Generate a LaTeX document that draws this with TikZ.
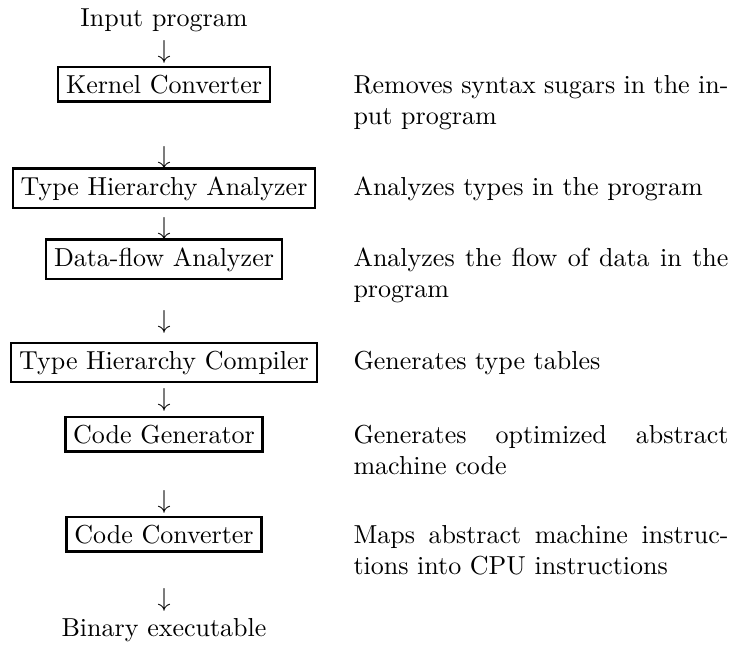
\documentclass[tikz,border=0pt]{standalone}
\usepackage{amsmath}
\usepackage{tikz}
\usetikzlibrary{positioning}
\tikzset{
  stagenode/.style = {align=center, inner sep=0pt, text centered},
  phase_node/.style = {stagenode, rectangle, draw=black, line width=0.9pt,
    inner sep=3pt, anchor=base},% une phase du compilateur
  io_node/.style = {stagenode, anchor=base},% entree ou sortie
  arrow_node/.style = {stagenode, anchor=base},% fleche entre deux phases
  desc_node/.style = {anchor=base west, inner sep=0pt, text width=144.2pt,
    align=justify}% explication de la phase
}

\begin{document}
\begin{tikzpicture}[x=0.3846pt, y=-0.3846pt]
  \useasboundingbox (0,0) rectangle (732,644);
  \coordinate (dx) at (353,0);
  % colonne de gauche
  \node [io_node] (in) at (164,26) {Input program};
  \node [arrow_node] (a1) at (164,58) {$\downarrow$};
  \node [phase_node] (kc) at (164,93) {Kernel Converter};
  \node [arrow_node] (a2) at (164,164) {$\downarrow$};
  \node [phase_node] (tha) at (164,195) {Type Hierarchy Analyzer};
  \node [arrow_node] (a3) at (164,235) {$\downarrow$};
  \node [phase_node] (dfa) at (164,266) {Data-flow Analyzer};
  \node [arrow_node] (a4) at (164,328) {$\downarrow$};
  \node [phase_node] (thc) at (164,369) {Type Hierarchy Compiler};
  \node [arrow_node] (a5) at (164,406) {$\downarrow$};
  \node [phase_node] (cg) at (164,443) {Code Generator};
  \node [arrow_node] (a6) at (164,508) {$\downarrow$};
  \node [phase_node] (cc) at (164,543) {Code Converter};
  \node [arrow_node] (a7) at (164,606) {$\downarrow$};
  \node [io_node] (out) at (164,636) {Binary executable};
  % colonne de droite
  \node [desc_node] (kcd) at (kc.base -| dx)
    {Removes syntax sugars in the in-\linebreak put program};
  \node [desc_node] (thad) at (tha.base -| dx)
    {Analyzes types in the program};
  \node [desc_node] (dfad) at (dfa.base -| dx)
    {Analyzes the flow of data in the\linebreak program};
  \node [desc_node] (thcd) at (thc.base -| dx)
    {Generates type tables};
  \node [desc_node] (cgd) at (cg.base -| dx)
    {Generates optimized abstract\linebreak machine code};
  \node [desc_node] (ccd) at (cc.base -| dx)
    {Maps abstract machine instruc-\linebreak tions into CPU instructions};
\end{tikzpicture}
\end{document}
